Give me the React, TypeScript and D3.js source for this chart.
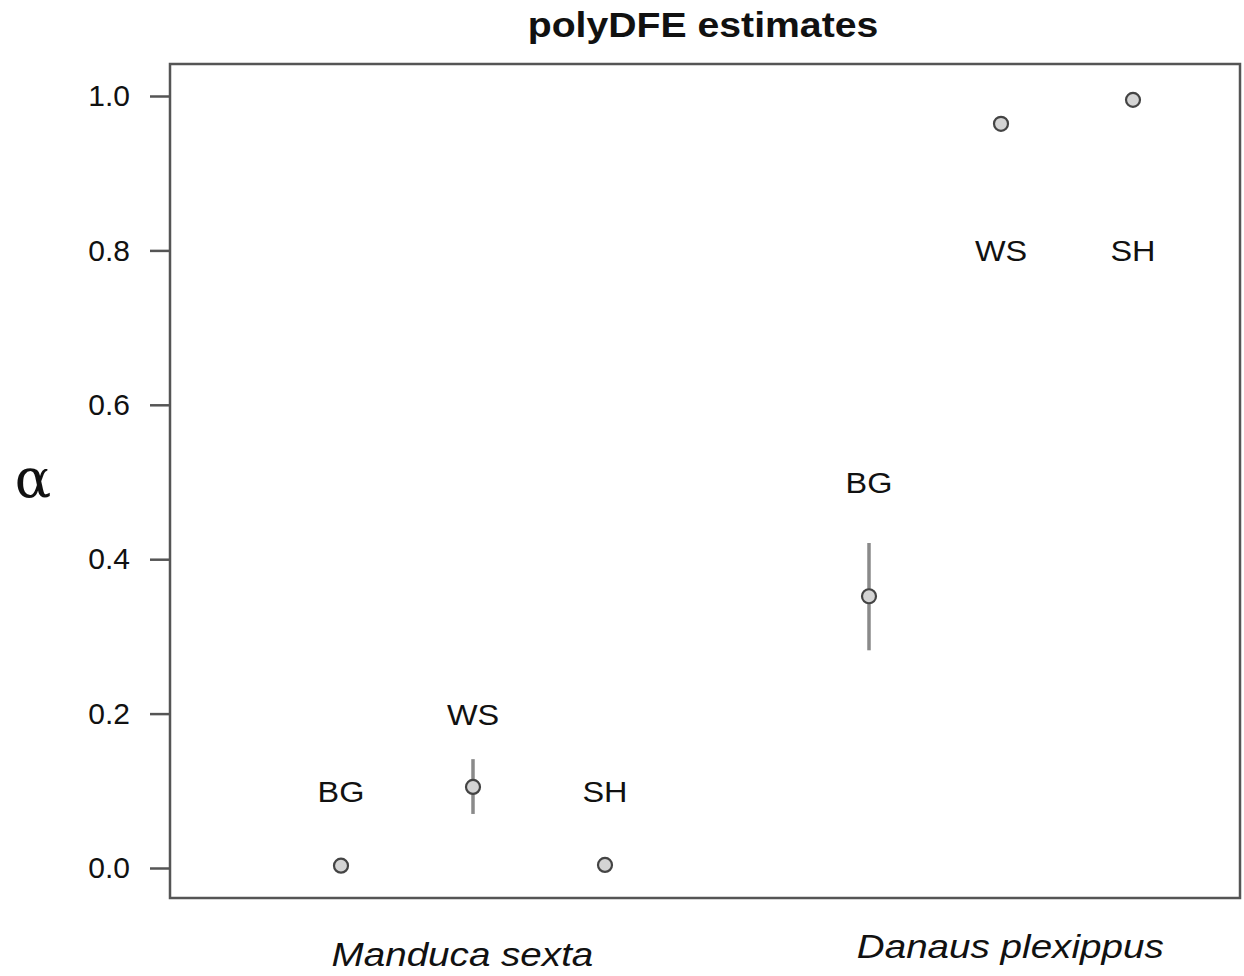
import { useEffect, useRef } from 'react'
import * as d3 from 'd3'

const labels = ['BG', 'WS', 'SH', 'BG', 'WS', 'SH']
const xPos = [1, 2, 3, 5, 6, 7]
const alpha = [0.003, 0.105, 0.004, 0.352, 0.964, 0.995]
const lower = [null, 0.07, null, 0.282, null, null]
const upper = [null, 0.141, null, 0.421, null, null]
const labelY = [0.1, 0.2, 0.1, 0.5, 0.8, 0.8]
const yTicks = [0, 0.2, 0.4, 0.6, 0.8, 1.0]
const species = ['Manduca sexta', 'Danaus plexippus']
const speciesX = [1.92, 6.07]

const W = 1244
const H = 976

export default function App() {
  const svgRef = useRef<SVGSVGElement>(null)

  useEffect(() => {
    const svg = d3.select(svgRef.current)
    svg.selectAll('*').remove()

    const box = { left: 170, right: 1240, top: 64, bottom: 898 }
    const x = d3.scaleLinear().domain([1, 7]).range([341, 1133])
    const y = d3.scaleLinear().domain([0, 1]).range([868, 96])
    const font = 'Liberation Sans, Arial, Helvetica, sans-serif'

    svg.append('rect').attr('width', W).attr('height', H).attr('fill', '#fff')

    // title (the reference text is a bit wide, so stretch it)
    svg.append('text')
      .attr('transform', 'translate(703,37) scale(1.12,1)')
      .attr('text-anchor', 'middle')
      .style('font-family', font).style('font-weight', 'bold').style('font-size', '35px')
      .attr('fill', '#111')
      .text('polyDFE estimates')

    // frame
    svg.append('rect')
      .attr('x', box.left).attr('y', box.top)
      .attr('width', box.right - box.left).attr('height', box.bottom - box.top)
      .attr('fill', 'none').attr('stroke', '#555').attr('stroke-width', 2.5)

    // y axis
    const axis = svg.append('g')
      .attr('transform', `translate(${box.left},0)`)
      .call(d3.axisLeft(y).tickValues(yTicks).tickFormat(d3.format('.1f')).tickSize(20).tickPadding(20))
    axis.select('.domain').remove()
    axis.selectAll('line').attr('stroke', '#555').attr('stroke-width', 2.5)
    axis.selectAll('text')
      .style('font-family', font).style('font-size', '30px').attr('fill', '#111')

    svg.append('text')
      .attr('x', 33).attr('y', 497)
      .attr('text-anchor', 'middle')
      .style('font-family', 'DejaVu Serif, Liberation Serif, serif').style('font-size', '54px')
      .attr('fill', '#111')
      .text('α')

    const idx = d3.range(alpha.length)

    // error bars
    svg.append('g').selectAll('line')
      .data(idx.filter((i) => lower[i] != null))
      .join('line')
      .attr('x1', (i) => x(xPos[i])).attr('x2', (i) => x(xPos[i]))
      .attr('y1', (i) => y(lower[i] as number)).attr('y2', (i) => y(upper[i] as number))
      .attr('stroke', '#8a8a8a').attr('stroke-width', 3.5)

    // points
    svg.append('g').selectAll('circle')
      .data(idx)
      .join('circle')
      .attr('cx', (i) => x(xPos[i])).attr('cy', (i) => y(alpha[i]))
      .attr('r', 7)
      .attr('fill', '#d4d4d4').attr('stroke', '#444').attr('stroke-width', 2.2)

    // labels
    svg.append('g').selectAll('text')
      .data(idx)
      .join('text')
      .attr('transform', (i) => `translate(${x(xPos[i])},${y(labelY[i]) + 11}) scale(1.08,1)`)
      .attr('text-anchor', 'middle')
      .style('font-family', font).style('font-size', '30px')
      .attr('fill', '#111')
      .text((i) => labels[i])

    svg.append('g').selectAll('text')
      .data(species)
      .join('text')
      .attr('transform', (d, i) => `translate(${x(speciesX[i])},${i === 0 ? 966 : 958}) scale(1.17,1)`)
      .attr('text-anchor', 'middle')
      .style('font-family', font).style('font-style', 'italic').style('font-size', '33px')
      .attr('fill', '#111')
      .text((d) => d)
  }, [])

  return (
    <svg
      ref={svgRef}
      width={W}
      height={H}
      style={{ position: 'absolute', left: 0, top: 0, display: 'block' }}
    />
  )
}
